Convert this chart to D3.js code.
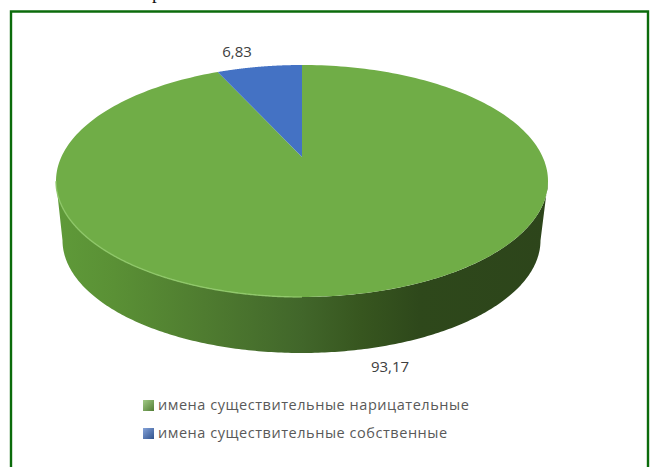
<!DOCTYPE html>
<html lang="ru">
<head>
<meta charset="utf-8">
<title>Имена существительные</title>
<script src="https://cdnjs.cloudflare.com/ajax/libs/d3/7.8.5/d3.min.js"></script>
<style>
  html, body { margin: 0; padding: 0; background: #fff; }
  svg { display: block; }
</style>
</head>
<body>
<svg id="chart" width="654" height="467"></svg>
<script>
// Chart data
const categories = ["имена существительные нарицательные", "имена существительные собственные"];
const shares = [93.17, 6.83];
const sliceColors = ["#70ad47", "#4472c4"];

// Pie geometry: a disc seen in perspective, with the near edge larger than the far edge
const pieCx = 302, pieTopY = 65, pieBottomY = 297, pieHubY = 157, pieHalfWidth = 246;
const wallBottomY = 353, wallHalfWidth = 239;

const svg = d3.select("#chart");
const width = 654, height = 467;

const tilt = ((pieTopY + pieBottomY) - 2 * pieHubY) / (pieBottomY - pieTopY);
const spreadY = pieTopY * (1 + tilt) - pieHubY;
const spreadX = pieHalfWidth * Math.sqrt(1 - tilt * tilt);
const rimCy = (pieTopY + pieBottomY) / 2;
const rimRy = (pieBottomY - pieTopY) / 2;

// Maps an angle clockwise from twelve o'clock on to the top rim of the disc
function topRim(theta) {
  const u = Math.sin(theta), v = Math.cos(theta), w = 1 + tilt * v;
  return [pieCx + spreadX * u / w, (spreadY * v + pieHubY) / w];
}
// The same angle on the lower rim of the side wall
const wallRy = rimRy * wallHalfWidth / pieHalfWidth;
const wallCy = wallBottomY - wallRy;
function bottomRim(theta) {
  const [x, y] = topRim(theta);
  return [pieCx + (x - pieCx) * wallHalfWidth / pieHalfWidth - 0.5,
          wallCy + (y - rimCy) * wallHalfWidth / pieHalfWidth];
}

const arcs = d3.pie().sort(null).value(d => d)(shares);
const line = d3.line();
const sampleAngles = (a, b) => d3.range(0, 241).map(i => a + (b - a) * i / 240);

// Side wall shading
const defs = svg.append("defs");
const wallStops = [[0, "#5f9a39"], [0.12, "#5a9035"], [0.3, "#4f7c30"], [0.5, "#41662a"],
                   [0.62, "#37561f"], [0.74, "#2e481b"], [1, "#2d451b"]];
const wallGrad = defs.append("linearGradient").attr("id", "wallShade")
  .attr("gradientUnits", "userSpaceOnUse")
  .attr("x1", pieCx - pieHalfWidth).attr("x2", pieCx + pieHalfWidth).attr("y1", 0).attr("y2", 0);
wallStops.forEach(([o, c]) => wallGrad.append("stop").attr("offset", o).attr("stop-color", c));

const rimGrad = defs.append("linearGradient").attr("id", "rimLight")
  .attr("gradientUnits", "userSpaceOnUse")
  .attr("x1", pieCx - pieHalfWidth).attr("x2", pieCx + 60).attr("y1", 0).attr("y2", 0);
rimGrad.append("stop").attr("offset", 0).attr("stop-color", "#8ec768").attr("stop-opacity", 0.9);
rimGrad.append("stop").attr("offset", 0.75).attr("stop-color", "#93cb6d").attr("stop-opacity", 0.9);
rimGrad.append("stop").attr("offset", 1).attr("stop-color", "#93cb6d").attr("stop-opacity", 0);

// Legend key shading
sliceColors.forEach((c, i) => {
  const g = defs.append("linearGradient").attr("id", "key" + i)
    .attr("x1", 0).attr("x2", 1).attr("y1", 0).attr("y2", 1);
  g.append("stop").attr("offset", 0).attr("stop-color", d3.interpolateRgb(c, "#fff")(0.35));
  g.append("stop").attr("offset", 1).attr("stop-color", d3.color(c).darker(0.9));
});

// Page frame
const frameColor = "#0b6b0b";
svg.append("path")
  .attr("d", line([[11, height + 2], [11, 11.5], [648, 11.5], [648, height + 2]]))
  .attr("fill", "none").attr("stroke", frameColor).attr("stroke-width", 2.4);

// Tails of the text line that sits above the frame
const overhang = [["р", 152, -1], ["(", 570, -4], ["д", 583, -4], [")", 640, -4]];
svg.selectAll("text.overhang").data(overhang).join("text")
  .attr("class", "overhang")
  .attr("x", d => d[1]).attr("y", d => d[2])
  .attr("font-family", "'Liberation Serif', serif").attr("font-size", 19)
  .attr("fill", "#111").text(d => d[0]);

// Visible part of the side wall: the front of the disc, between its outermost points
const all = sampleAngles(0, 2 * Math.PI);
const leftmost = d3.least(all, t => topRim(t)[0]);
const rightmost = d3.greatest(all, t => topRim(t)[0]);
const front = sampleAngles(rightmost, leftmost);
svg.append("path")
  .attr("d", line(front.map(topRim).concat(front.slice().reverse().map(bottomRim))) + "Z")
  .attr("fill", "url(#wallShade)");

// Top face slices
svg.selectAll("path.slice").data(arcs).join("path")
  .attr("class", "slice")
  .attr("d", d => line([[pieCx, pieHubY]].concat(sampleAngles(d.startAngle, d.endAngle).map(topRim))) + "Z")
  .attr("fill", (d, i) => sliceColors[i]);

// Lit edge along the front left of the top face
svg.append("path")
  .attr("d", line(sampleAngles(leftmost, Math.PI).map(topRim)))
  .attr("fill", "none").attr("stroke", "url(#rimLight)").attr("stroke-width", 1.4);

// Value labels
const labelFont = "'Open Sans', 'Noto Sans', sans-serif";
const formatShare = v => String(v).replace(".", ",");
const labelAnchors = [[390, 372], [237, 57]];
svg.selectAll("text.value").data(shares).join("text")
  .attr("class", "value")
  .attr("x", (d, i) => labelAnchors[i][0]).attr("y", (d, i) => labelAnchors[i][1])
  .attr("text-anchor", "middle")
  .attr("font-family", labelFont).attr("font-size", 15)
  .attr("fill", "#404040").text(formatShare);

// Legend
const legend = svg.selectAll("g.legend").data(categories).join("g")
  .attr("class", "legend")
  .attr("transform", (d, i) => `translate(143,${400 + i * 28})`);
legend.append("rect").attr("width", 11).attr("height", 11)
  .attr("fill", (d, i) => `url(#key${i})`);
legend.append("text")
  .attr("x", 15).attr("y", 10)
  .attr("font-family", labelFont).attr("font-size", 14.5)
  .attr("letter-spacing", 0.54)
  .attr("fill", "#595959").text(d => d);
</script>
</body>
</html>
